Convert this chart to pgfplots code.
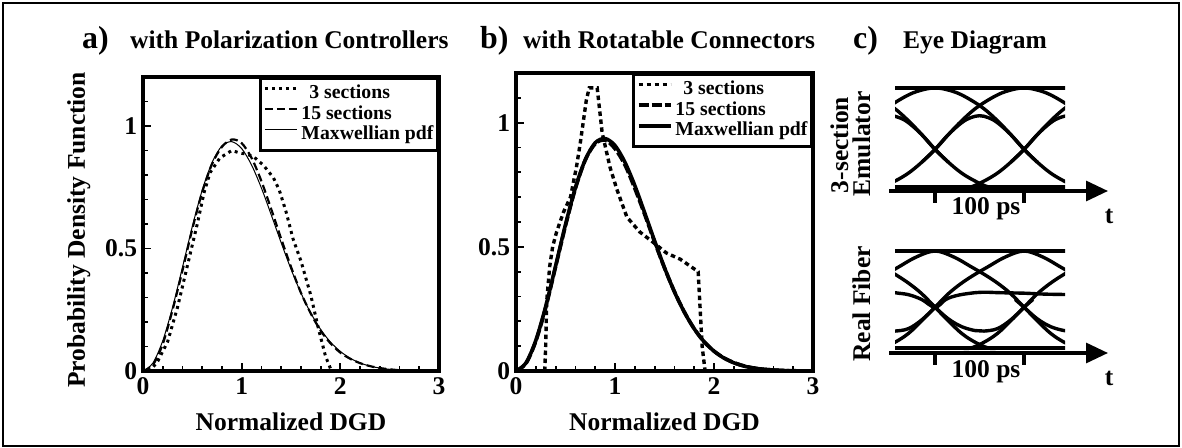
\documentclass[border=0pt]{standalone}
\usepackage{fontspec}
\setmainfont{Liberation Serif}
\usepackage{pgfplots}
\pgfplotsset{compat=1.18}
\usetikzlibrary{arrows.meta}
\newcommand{\lab}{\fontsize{25.6pt}{30pt}\selectfont\bfseries}
\newcommand{\pan}{\fontsize{32pt}{36pt}\selectfont\bfseries}
\newcommand{\leg}{\fontsize{19.8pt}{23pt}\selectfont\bfseries}
\pgfplotsset{
  pdfstyle/.style={scale only axis, anchor=south west, line width=3.2bp,
    xmin=0, xmax=3, ymin=0, ymax=1.2,
    xtick={0,1,2,3}, ytick={0,0.5,1,1.5},
    minor x tick num=4, minor y tick num=4,
    tick pos=left, tick align=inside,
    major tick length=8bp, minor tick length=5bp,
    every tick/.style={black, line width=1.8bp},
    axis line style={line width=3.2bp},
    tick label style={font=\lab},
    xticklabel style={yshift=-2bp},
    yticklabel style={xshift=-1bp},
    /pgf/number format/assume math mode=true,
    xlabel={Normalized DGD},
    xlabel style={font=\lab, at={(axis description cs:0.5,-0.2007)}, anchor=base},
    legend cell align=left,
    legend style={at={(1,1)}, anchor=north east, draw=black, line width=3bp,
      fill=white, font=\leg, inner xsep=3bp, inner ysep=5bp, row sep=0bp,
      column sep=2bp, nodes={inner sep=1bp, text height=14bp, text depth=4.5bp}},
    legend image code/.code={\draw[##1] (0bp,5bp) -- (32bp,5bp);},
  },
  eyestyle/.style={scale only axis, anchor=south west, hide axis,
    xmin=-45, xmax=146, ymin=-0.02, ymax=1.02, clip=true},
  eyeline/.style={black, line width=3.4bp, smooth, tension=0.6},
}
\begin{document}
\begin{tikzpicture}
\path[use as bounding box] (0,0) rectangle (1182bp,-448bp);
\draw[line width=2.5bp] (3bp,-3bp) rectangle (1179bp,-446bp);

% ---------------- panel a ----------------
\begin{axis}[pdfstyle, at={(143bp,-371bp)}, width=296bp, height=294bp,
  ylabel={Probability Density Function},
  ylabel style={font=\lab, at={(axis description cs:-0.196,0.48)}, anchor=base}]
\addplot[black, line width=3bp, dash pattern=on 3bp off 4bp] coordinates {
(0.05,0)(0.1,0.015)(0.15,0.04)(0.25,0.12)(0.35,0.26)(0.45,0.43)(0.55,0.60)(0.62,0.73)
(0.68,0.81)(0.78,0.87)(0.9,0.90)(0.98,0.89)(1.05,0.885)(1.12,0.875)(1.22,0.84)(1.32,0.79)
(1.38,0.74)(1.45,0.65)(1.52,0.54)(1.6,0.45)(1.7,0.31)(1.78,0.17)(1.85,0.06)(1.9,0.01)(1.93,0)};
\addlegendentry{\hspace*{8bp}3 sections}
\addplot[black, line width=2.2bp, dash pattern=on 8bp off 4bp, smooth] coordinates {
(0,0)(0.1,0.025)(0.2,0.11)(0.3,0.25)(0.4,0.41)(0.5,0.58)(0.6,0.73)(0.7,0.845)(0.8,0.915)
(0.9,0.945)(1.0,0.93)(1.1,0.87)(1.2,0.775)(1.3,0.66)(1.4,0.54)(1.5,0.425)(1.6,0.32)
(1.7,0.235)(1.8,0.165)(1.9,0.113)(2.0,0.075)(2.1,0.05)(2.2,0.032)(2.3,0.02)(2.4,0.012)
(2.5,0.007)(2.6,0.003)(2.7,0.0)};
\addlegendentry{15 sections}
\addplot[black, line width=1bp, smooth] coordinates {
(0,0)(0.1,0.032)(0.2,0.123)(0.3,0.260)(0.4,0.423)(0.5,0.590)(0.6,0.738)(0.7,0.851)
(0.8,0.919)(0.9,0.936)(1.0,0.908)(1.1,0.841)(1.2,0.747)(1.3,0.637)(1.4,0.524)(1.5,0.416)
(1.6,0.319)(1.7,0.237)(1.8,0.170)(1.9,0.118)(2.0,0.080)(2.1,0.052)(2.2,0.033)(2.3,0.020)
(2.4,0.012)(2.5,0.007)(2.6,0.004)(2.7,0.002)(2.8,0.001)(3.0,0)};
\addlegendentry{Maxwellian pdf}
\end{axis}

% ---------------- panel b ----------------
\begin{axis}[pdfstyle, at={(516bp,-371bp)}, width=297bp, height=298bp]
\addplot[black, line width=3.4bp, dash pattern=on 4.5bp off 3.5bp] coordinates {
(0.29,0)(0.30,0.10)(0.31,0.28)(0.34,0.42)(0.37,0.50)(0.41,0.56)(0.48,0.64)(0.55,0.70)
(0.61,0.82)(0.65,0.92)(0.71,1.09)(0.74,1.14)(0.82,1.14)(0.87,0.96)(0.95,0.82)(1.02,0.73)
(1.12,0.62)(1.25,0.56)(1.38,0.52)(1.52,0.475)(1.66,0.45)(1.84,0.40)(1.86,0.25)(1.88,0.1)(1.91,0)};
\addlegendentry{\hspace*{8bp}3 sections}
\addplot[black, line width=3.6bp, dash pattern=on 10bp off 3bp, smooth] coordinates {
(0,0)(0.1,0.03)(0.2,0.12)(0.3,0.255)(0.4,0.42)(0.5,0.585)(0.6,0.735)(0.7,0.85)(0.8,0.915)
(0.9,0.93)(1.0,0.895)(1.1,0.83)(1.2,0.735)(1.3,0.63)(1.4,0.52)(1.5,0.415)(1.6,0.32)
(1.7,0.238)(1.8,0.17)(1.9,0.118)(2.0,0.08)(2.1,0.053)(2.2,0.034)(2.3,0.021)(2.4,0.012)
(2.5,0.007)(2.6,0.004)(2.8,0.0)};
\addlegendentry{15 sections}
\addplot[black, line width=3.6bp, smooth] coordinates {
(0,0)(0.1,0.032)(0.2,0.123)(0.3,0.260)(0.4,0.423)(0.5,0.590)(0.6,0.738)(0.7,0.851)
(0.8,0.919)(0.9,0.936)(1.0,0.908)(1.1,0.841)(1.2,0.747)(1.3,0.637)(1.4,0.524)(1.5,0.416)
(1.6,0.319)(1.7,0.237)(1.8,0.170)(1.9,0.118)(2.0,0.080)(2.1,0.052)(2.2,0.033)(2.3,0.020)
(2.4,0.012)(2.5,0.007)(2.6,0.004)(2.7,0.002)(2.8,0.001)(3.0,0)};
\addlegendentry{Maxwellian pdf}
\end{axis}

% ---------------- panel c: 3-section emulator eye ----------------
\begin{axis}[eyestyle, at={(895bp,-189bp)}, width=170bp, height=103bp]
\addplot[eyeline] coordinates {(-60,1)(160,1)};
\addplot[eyeline] coordinates {(-60,0)(160,0)};
\addplot[eyeline] coordinates {(-115,0.25)(-100,0.38)(-85,0.53)(-70,0.67)(-55,0.79)(-40,0.88)(-25,0.95)(-10,0.99)(0,1)(10,1)};
\addplot[eyeline] coordinates {(-110,1)(-100,1)(-90,0.99)(-75,0.95)(-60,0.88)(-45,0.79)(-30,0.67)(-15,0.53)(0,0.38)(15,0.25)(30,0.14)(45,0.06)(60,0)(70,0)};
\addplot[eyeline] coordinates {(-70,0)(-60,0)(-45,0.06)(-30,0.14)(-15,0.25)(0,0.38)(15,0.53)(30,0.67)(45,0.79)(60,0.88)(75,0.95)(90,0.99)(100,1)(110,1)};
\addplot[eyeline] coordinates {(-10,1)(0,1)(10,0.99)(25,0.95)(40,0.88)(55,0.79)(70,0.67)(85,0.53)(100,0.38)(115,0.25)(130,0.14)(145,0.06)(160,0)(170,0)};
\addplot[eyeline] coordinates {(30,0)(40,0)(55,0.06)(70,0.14)(85,0.25)(100,0.38)(115,0.53)(130,0.67)(145,0.79)(160,0.88)};
\addplot[eyeline] coordinates {(90,1)(100,1)(110,0.99)(125,0.95)(140,0.88)(155,0.79)(170,0.67)};
\addplot[eyeline] coordinates {(-115,0.25)(-100,0.38)(-85,0.53)(-70,0.65)(-60,0.70)(-50,0.72)(-40,0.70)(-30,0.65)(-15,0.53)(0,0.38)(15,0.25)};
\addplot[eyeline] coordinates {(-15,0.25)(0,0.38)(15,0.53)(30,0.65)(40,0.70)(50,0.72)(60,0.70)(70,0.65)(85,0.53)(100,0.38)(115,0.25)};
\addplot[eyeline] coordinates {(85,0.25)(100,0.38)(115,0.53)(130,0.65)(140,0.70)(150,0.72)(160,0.70)};
\end{axis}

% ---------------- panel c: real fiber eye ----------------
\begin{axis}[eyestyle, at={(895bp,-350bp)}, width=170bp, height=101bp]
\addplot[eyeline] coordinates {(-60,1)(160,1)};
\addplot[eyeline] coordinates {(-60,0)(160,0)};
\addplot[eyeline] coordinates {(-115,0.28)(-100,0.42)(-85,0.56)(-70,0.67)(-55,0.76)(-40,0.84)(-25,0.92)(-10,0.98)(0,1)(10,1)};
\addplot[eyeline] coordinates {(-110,1)(-100,1)(-90,0.98)(-75,0.92)(-60,0.84)(-45,0.76)(-30,0.67)(-15,0.56)(0,0.42)(15,0.28)(30,0.15)(45,0.06)(60,0)(70,0)};
\addplot[eyeline] coordinates {(-70,0)(-60,0)(-45,0.06)(-30,0.15)(-15,0.28)(0,0.42)(15,0.56)(30,0.67)(45,0.76)(60,0.84)(75,0.92)(90,0.98)(100,1)(110,1)};
\addplot[eyeline] coordinates {(-10,1)(0,1)(10,0.98)(25,0.92)(40,0.84)(55,0.76)(70,0.67)(85,0.56)(100,0.42)(115,0.28)(130,0.15)(145,0.06)(160,0)(170,0)};
\addplot[eyeline] coordinates {(30,0)(40,0)(55,0.06)(70,0.15)(85,0.28)(100,0.42)(115,0.56)(130,0.67)(145,0.76)(160,0.84)};
\addplot[eyeline] coordinates {(90,1)(100,1)(110,0.98)(125,0.92)(140,0.84)(155,0.76)(170,0.67)};
\addplot[eyeline] coordinates {(-60,0.6)(-45,0.57)(-30,0.55)(-15,0.5)(0,0.42)(12,0.5)(24,0.54)(40,0.565)(55,0.575)(73,0.57)(100,0.565)(125,0.555)(160,0.55)};
\addplot[eyeline] coordinates {(-110,0.5)(-100,0.42)(-85,0.3)(-70,0.22)(-55,0.18)(-45,0.175)(-30,0.2)(-15,0.29)(0,0.42)(10,0.5)};
\addplot[eyeline] coordinates {(-10,0.5)(0,0.42)(15,0.3)(30,0.22)(45,0.18)(55,0.175)(70,0.2)(85,0.29)(100,0.42)(110,0.5)};
\addplot[eyeline] coordinates {(90,0.5)(100,0.42)(115,0.3)(130,0.22)(145,0.18)(155,0.175)(170,0.2)};
\end{axis}

\begin{scope}[x=1bp, y=-1bp]
% titles
\node[font=\pan, anchor=base west, inner sep=0] at (82,48) {a)};
\node[font=\lab, anchor=base west, inner sep=0] at (130,48) {with Polarization Controllers};
\node[font=\pan, anchor=base west, inner sep=0] at (480,48) {b)};
\node[font=\lab, anchor=base west, inner sep=0] at (523,48) {with Rotatable Connectors};
\node[font=\pan, anchor=base west, inner sep=0] at (853,48) {c)};
\node[font=\lab, anchor=base west, inner sep=0] at (903,48) {Eye Diagram};
% eye axes
\draw[line width=3.2bp, -{Triangle[length=22bp,width=20bp]}] (889,191) -- (1108,191);
\draw[line width=3.2bp] (935,191) -- (935,203);
\draw[line width=3.2bp] (1024,191) -- (1024,203);
\node[font=\lab, anchor=base, inner sep=0] at (986,214) {100 ps};
\node[font=\lab, anchor=base, inner sep=0] at (1109,223) {t};
\draw[line width=3.2bp, -{Triangle[length=22bp,width=20bp]}] (889,353) -- (1108,353);
\draw[line width=3.2bp] (935,353) -- (935,365);
\draw[line width=3.2bp] (1024,353) -- (1024,365);
\node[font=\lab, anchor=base, inner sep=0] at (986,377) {100 ps};
\node[font=\lab, anchor=base, inner sep=0] at (1109,385) {t};
% side labels
\node[font=\lab, rotate=90, anchor=base, inner sep=0] at (848,145) {3-section};
\node[font=\lab, rotate=90, anchor=base, inner sep=0] at (870,144) {Emulator};
\node[font=\lab, rotate=90, anchor=base, inner sep=0] at (870,304) {Real Fiber};
\end{scope}
\end{tikzpicture}
\end{document}
